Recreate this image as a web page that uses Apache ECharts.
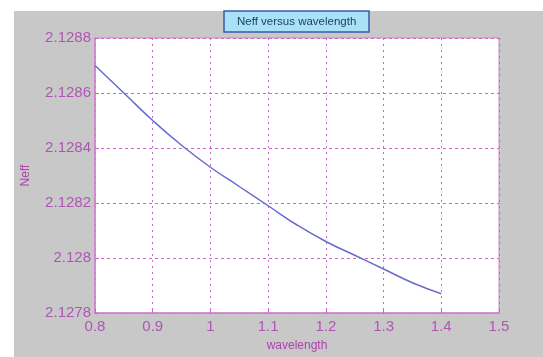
<!DOCTYPE html>
<html><head><meta charset="utf-8">
<script src="https://cdn.jsdelivr.net/npm/echarts@6/dist/echarts.min.js"></script>
<style>html,body{margin:0;padding:0;background:#fff}#c{width:543px;height:357px}</style>
</head><body><div id="c"></div>
<script>
const wavelength = [0.8, 0.85, 0.9, 0.95, 1.0, 1.05, 1.1, 1.15, 1.2, 1.25, 1.3, 1.35, 1.4];
const neff = [2.12870, 2.12860, 2.12850, 2.12841, 2.12833, 2.12826, 2.12819, 2.12812, 2.12806, 2.12801, 2.12796, 2.12791, 2.12787];
const titleText = 'Neff versus wavelength';
const xName = 'wavelength';
const yName = 'Neff';

const axisColor = '#cc66cc';
const labelColor = '#b055b5';
const chart = echarts.init(document.getElementById('c'));
chart.setOption({
  animation: false,
  backgroundColor: '#ffffff',
  graphic: [{type: 'rect', z: -10, shape: {x: 14, y: 11, width: 529, height: 346}, style: {fill: '#c8c8c8'}}],
  title: {
    text: titleText, left: 224, top: 11,
    padding: [5, 13, 4, 13],
    backgroundColor: '#a9e2f7', borderColor: '#3a5aa8', borderWidth: 1.5,
    textStyle: {fontFamily: 'Liberation Sans', fontSize: 11.5, fontWeight: 'normal', color: '#1f3f66'}
  },
  grid: {left: 95, top: 38, right: 44, bottom: 39, show: true, backgroundColor: '#ffffff', borderColor: '#d080d0', borderWidth: 1},
  xAxis: {
    type: 'value', min: 0.8, max: 1.5, interval: 0.1,
    name: xName, nameLocation: 'middle', nameGap: 27,
    nameTextStyle: {fontFamily: 'Liberation Sans', fontSize: 12, color: '#b040b0'},
    axisLine: {show: true, lineStyle: {color: '#d080d0', width: 1.5}},
    axisTick: {show: true, inside: true, length: 4, lineStyle: {color: axisColor}},
    axisLabel: {fontFamily: 'Liberation Sans', fontSize: 15, color: labelColor, margin: 6},
    splitLine: {show: true, lineStyle: {color: axisColor, type: [2, 4], width: 1}}
  },
  yAxis: {
    type: 'value', min: 2.1278, max: 2.1288, interval: 0.0002,
    name: yName, nameLocation: 'middle', nameGap: 63, nameRotate: 90,
    nameTextStyle: {fontFamily: 'Liberation Sans', fontSize: 12, color: '#b040b0'},
    axisLine: {show: true, lineStyle: {color: '#d080d0', width: 1.5}},
    axisTick: {show: true, inside: true, length: 4, lineStyle: {color: axisColor}},
    axisLabel: {fontFamily: 'Liberation Sans', fontSize: 15, color: labelColor, margin: 4,
      formatter: v => String(Math.round(v * 10000) / 10000)},
    splitLine: {show: true, lineStyle: {color: axisColor, type: [3, 3], width: 1}}
  },
  series: [{
    type: 'line', smooth: true, symbol: 'none',
    data: wavelength.map((x, i) => [x, neff[i]]),
    lineStyle: {color: '#6a6ad0', width: 1.5}
  }]
});
</script></body></html>
